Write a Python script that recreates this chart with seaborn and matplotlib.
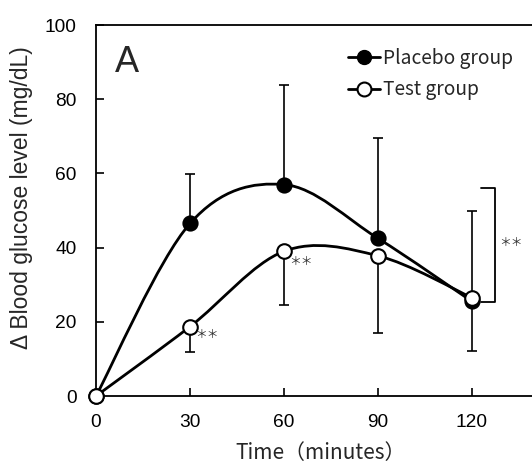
import numpy as np
import pandas as pd
import seaborn as sns
import matplotlib.pyplot as plt
from matplotlib.path import Path
from matplotlib.patches import PathPatch
from matplotlib.lines import Line2D

# ---- data ----
time = [0, 30, 60, 90, 120]
placebo = [0, 46.5, 57.0, 42.5, 25.5]
placebo_err_up = [0, 13.3, 26.8, 27.0, 24.5]
test = [0, 18.7, 39.0, 37.8, 26.5]
test_err_down = [0, 6.8, 14.6, 20.7, 14.3]
groups = ["Placebo group", "Test group"]
xticks = [0, 30, 60, 90, 120]
yticks = [0, 20, 40, 60, 80, 100]
panel_label = "A"
xlabel = "Time（minutes）"
ylabel = "Δ Blood glucose level (mg/dL)"
sig = "＊＊"

sns.set_theme(style="white")
plt.rcParams['font.family'] = ['Liberation Sans', 'DejaVu Sans']
cjk = ['Noto Sans CJK JP', 'DejaVu Sans']

fig = plt.figure(figsize=(5.32, 4.66), dpi=100)
ax = fig.add_axes([0.1805, 0.1502, 0.8195, 0.7961])


def smooth_path(xs, ys):
    pts = np.column_stack([xs, ys]).astype(float)
    n = len(pts)
    verts = [pts[0]]
    codes = [Path.MOVETO]
    for i in range(n - 1):
        p0 = pts[max(i - 1, 0)]
        p1 = pts[i]
        p2 = pts[i + 1]
        p3 = pts[min(i + 2, n - 1)]
        c1 = p1 + (p2 - p0) / 6.0
        c2 = p2 - (p3 - p1) / 6.0
        verts += [c1, c2, p2]
        codes += [Path.CURVE4] * 3
    return Path(verts, codes)


lw = 2.0
# error bars
ax.errorbar(time[1:], placebo[1:], yerr=[np.zeros(4), placebo_err_up[1:]],
            fmt='none', ecolor='black', elinewidth=1.2, capsize=3.5, capthick=1.2, zorder=2)
ax.errorbar(time[1:], test[1:], yerr=[test_err_down[1:], np.zeros(4)],
            fmt='none', ecolor='black', elinewidth=1.2, capsize=3.5, capthick=1.2, zorder=2)

# smooth lines
ax.add_patch(PathPatch(smooth_path(time, placebo), facecolor='none', edgecolor='black', lw=lw, zorder=3))
ax.add_patch(PathPatch(smooth_path(time, test), facecolor='none', edgecolor='black', lw=lw, zorder=5))

# markers
sns.scatterplot(x=time, y=placebo, ax=ax, color='black', edgecolor='black', s=110,
                linewidth=1.2, zorder=4, clip_on=False, legend=False)
sns.scatterplot(x=time, y=test, ax=ax, color='white', edgecolor='black', s=110,
                linewidth=1.5, zorder=6, clip_on=False, legend=False)

ax.set_xlim(0, 139.2)
ax.set_ylim(0, 100)
ax.set_xticks(xticks)
ax.set_yticks(yticks)
ax.tick_params(axis='y', direction='in', length=6, width=1.2, labelsize=13.8,
               colors='black', pad=14, left=True)
ax.tick_params(axis='x', direction='in', length=6, width=1.2, labelsize=13.8,
               colors='black', pad=13, bottom=True)
for s in ['left', 'bottom', 'top']:
    ax.spines[s].set_visible(True)
    ax.spines[s].set_color('black')
    ax.spines[s].set_linewidth(1.3)
ax.spines['right'].set_visible(False)

ax.set_xlabel(xlabel, fontsize=15, family=cjk)
ax.xaxis.set_label_coords(0.5 + 7 / 436, -0.124)
ax.set_ylabel(ylabel, fontsize=16.5)
ax.yaxis.set_label_coords(-0.145, 0.5 + 13 / 371)

ax.text(0.043, 0.945, panel_label, transform=ax.transAxes, fontsize=26, va='top', ha='left')

# significance marks
star_kw = dict(fontsize=8.5, color='#333333', va='center', ha='left', family=cjk)
ax.text(time[1] + 1.8, test[1] - 2.0, sig, **star_kw)
ax.text(time[2] + 1.8, test[2] - 2.6, sig, **star_kw)
ax.plot([123, 127.5, 127.5, 123], [56.0, 56.0, 25.3, 25.3], color='black', lw=1.3, clip_on=False)
ax.text(128.8, 41.5, sig, **star_kw)

handles = [Line2D([], [], color='black', lw=lw, marker='o', markersize=10,
                  markerfacecolor='black', markeredgecolor='black'),
           Line2D([], [], color='black', lw=lw, marker='o', markersize=10,
                  markerfacecolor='white', markeredgecolor='black', markeredgewidth=1.5)]
ax.legend(handles, groups, loc='upper left', bbox_to_anchor=(0.538, 0.985), frameon=False,
          handlelength=1.7, handletextpad=0.15, labelspacing=0.55,
          prop={'family': cjk, 'size': 13.8})

fig.savefig('out.png', dpi=100)
